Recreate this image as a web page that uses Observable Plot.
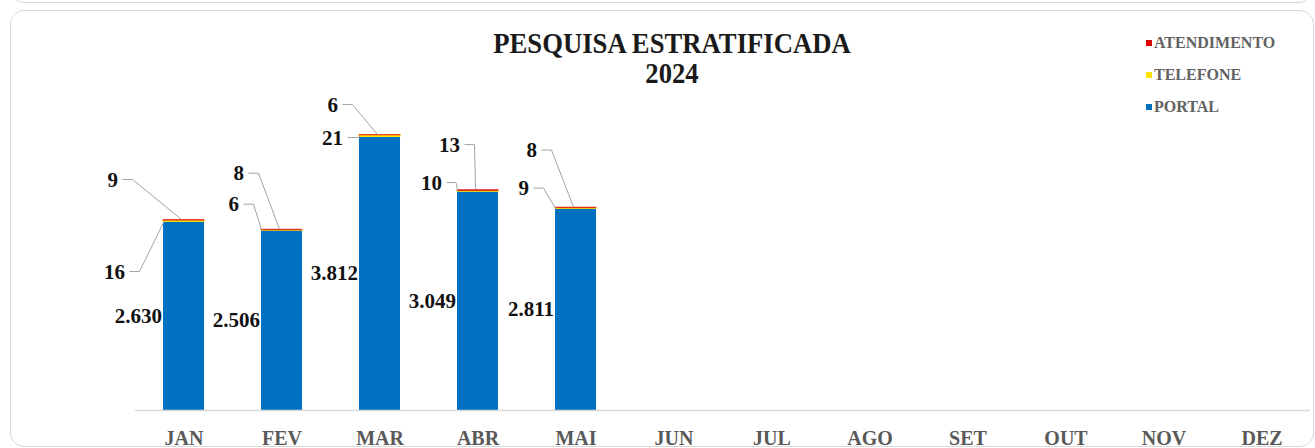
<!DOCTYPE html>
<html><head><meta charset="utf-8">
<script src="https://cdn.jsdelivr.net/npm/d3@7"></script>
<script src="https://cdn.jsdelivr.net/npm/@observablehq/plot@0.6"></script>
<style>
html,body{margin:0;padding:0;background:#fff;}
#wrap{position:relative;width:1315px;height:448px;overflow:hidden;font-family:"Liberation Serif","Times New Roman",serif;}
#prev{position:absolute;left:10px;top:-30px;width:1303px;height:33px;border:1.5px solid #d8d8d8;border-radius:14px;box-sizing:border-box;}
#card{position:absolute;left:10px;top:10px;width:1304px;height:437px;border:1.5px solid #d8d8d8;border-radius:14px;box-sizing:border-box;}
#chart{position:absolute;left:0;top:0;}
#title{position:absolute;left:472px;width:400px;top:28px;text-align:center;font-weight:bold;font-size:29px;line-height:30px;color:#1a1a1a;transform:scaleX(0.92);transform-origin:center;}
#legend{position:absolute;left:1146px;top:27px;font-weight:bold;font-size:16px;color:#626262;}
#legend .row{height:32px;line-height:32px;display:flex;align-items:center;white-space:nowrap;}
#legend .sw{width:6px;height:6px;margin-right:2px;display:inline-block;}
</style>
</head><body>
<div id="wrap">
  <div id="prev"></div>
  <div id="card"></div>
  <div id="chart"></div>
  <div id="title">PESQUISA ESTRATIFICADA<br>2024</div>
  <div id="legend"></div>
</div>
<script>
// ---- data ----
const months = ["JAN","FEV","MAR","ABR","MAI","JUN","JUL","AGO","SET","OUT","NOV","DEZ"];
const portal = [2630, 2506, 3812, 3049, 2811];
const telefone = [16, 6, 21, 10, 9];
const atendimento = [9, 8, 6, 13, 8];
const seriesNames = ["PORTAL", "TELEFONE", "ATENDIMENTO"];
const seriesColors = ["#0070C0", "#FFE600", "#E00000"];

// ---- layout of manually placed data labels (pixel offsets from bar top-centre) ----
const leaderLayout = [
  {att: [-66, -40], tel: [-59, 52]},
  {att: [-38, -56], tel: [-43, -25]},
  {att: [-42, -30], tel: [-37, 3]},
  {att: [-18, -45], tel: [-36, -7]},
  {att: [-39, -57], tel: [-47, -19]}
];
// thin segments get an outline of their own colour so they stay visible
const segmentOutline = {PORTAL: 0, TELEFONE: 1, ATENDIMENTO: 0.5};

const fmt = d3.formatLocale({decimal: ",", thousands: ".", grouping: [3], currency: ["R$", ""]}).format(",d");

const rows = [];
portal.forEach((v, i) => {
  rows.push({month: months[i], series: "PORTAL", value: v});
  rows.push({month: months[i], series: "TELEFONE", value: telefone[i]});
  rows.push({month: months[i], series: "ATENDIMENTO", value: atendimento[i]});
});
const totals = portal.map((v, i) => ({
  month: months[i], portal: v, tel: telefone[i], att: atendimento[i],
  total: v + telefone[i] + atendimento[i]
}));

const labelFont = {fontSize: 21, fontWeight: "bold", fill: "#111"};

const leaderLabelMarks = [];
totals.forEach((t, i) => {
  const L = leaderLayout[i];
  leaderLabelMarks.push(Plot.text([t], {x: "month", y: "total", text: d => fmt(d.att), dx: L.att[0], dy: L.att[1], textAnchor: "end", ...labelFont}));
  leaderLabelMarks.push(Plot.text([t], {x: "month", y: "total", text: d => fmt(d.tel), dx: L.tel[0], dy: L.tel[1], textAnchor: "end", ...labelFont}));
});

// leader lines drawn from the plot's own scales
const leaderLines = (index, scales) => {
  const g = d3.create("svg:g").attr("fill", "none").attr("stroke", "#a3a3a3").attr("stroke-width", 1);
  const bw = typeof scales.x.bandwidth === "function" ? scales.x.bandwidth() : 0;
  totals.forEach((t, i) => {
    const L = leaderLayout[i];
    const left = scales.x(t.month);
    const cx = left + bw / 2;
    const top = scales.y(t.total);
    const a0 = [cx + L.att[0] + 5, top + L.att[1]];
    g.append("path").attr("d", `M${a0[0]},${a0[1]}H${a0[0] + 10}L${cx - 2},${top}`);
    const b0 = [cx + L.tel[0] + 5, top + L.tel[1]];
    g.append("path").attr("d", `M${b0[0]},${b0[1]}H${Math.min(b0[0] + 10, left - 1)}L${left + 1},${top + 2}`);
  });
  return g.node();
};

const chart = Plot.plot({
  width: 1315,
  height: 448,
  marginTop: 123,
  marginBottom: 38,
  marginLeft: 135,
  marginRight: 5,
  style: {fontFamily: "'Liberation Serif','Times New Roman',serif", fontSize: "20px", fontWeight: "bold", color: "#595959", background: "transparent", overflow: "visible"},
  x: {domain: months, paddingInner: 0.583, paddingOuter: 0.28, tickSize: 0, tickPadding: 20, label: null},
  y: {domain: [0, 4000], axis: null},
  color: {domain: seriesNames, range: seriesColors},
  marks: [
    Plot.barY(rows, {x: "month", y: "value", fill: "series", stroke: "series", strokeWidth: 1, strokeOpacity: d => segmentOutline[d.series]}),
    Plot.ruleY([0], {stroke: "#d9d9d9", strokeWidth: 1.5}),
    Plot.text(totals, {x: "month", y: d => d.portal / 2, text: d => fmt(d.portal), dx: -22, textAnchor: "end", ...labelFont}),
    leaderLines,
    ...leaderLabelMarks
  ]
});
document.getElementById("chart").appendChild(chart);

// legend
const legend = d3.select("#legend");
seriesNames.slice().reverse().forEach(name => {
  const row = legend.append("div").attr("class", "row");
  row.append("span").attr("class", "sw").style("background", seriesColors[seriesNames.indexOf(name)]);
  row.append("span").text(name);
});
</script>
</body></html>
